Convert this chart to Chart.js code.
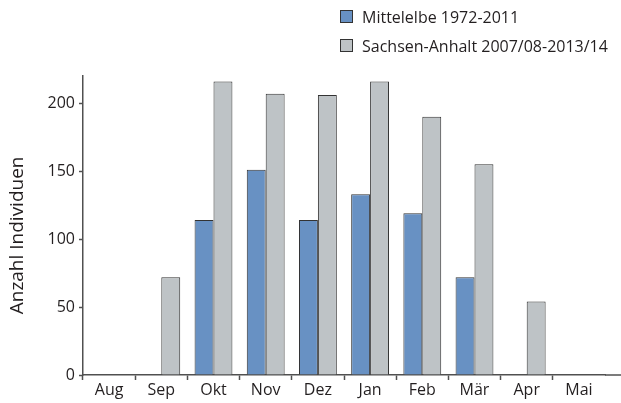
<!DOCTYPE html>
<html>
<head>
<meta charset="utf-8">
<script src="https://cdn.jsdelivr.net/npm/chart.js@4/dist/chart.umd.min.js"></script>
<style>
  html, body { margin: 0; padding: 0; background: #fff; }
  #wrap { position: relative; width: 621px; height: 403px; }
  #legend { position: absolute; left: 340px; top: 2px; font-family: "Open Sans", sans-serif; font-size: 16px; color: #231f20; }
  .item { display: flex; align-items: center; height: 29px; }
  .box { width: 11px; height: 11px; border: 1px solid #333; margin-right: 9px; flex: none; }
</style>
</head>
<body>
<div id="wrap">
  <canvas id="c" width="621" height="403"></canvas>
  <div id="legend"></div>
</div>
<script>
const categories = ["Aug", "Sep", "Okt", "Nov", "Dez", "Jan", "Feb", "Mär", "Apr", "Mai"];
const mittelelbe = [null, null, 114, 151, 114, 133, 119, 72, null, null];
const sachsenAnhalt = [null, 72, 216, 207, 206, 216, 190, 155, 54, null];
const seriesNames = ["Mittelelbe 1972-2011", "Sachsen-Anhalt 2007/08-2013/14"];
const yTicks = [0, 50, 100, 150, 200];
const yMax = 220;
const yTitle = "Anzahl Individuen";

const colors = ["#6891c3", "#bec3c6"];
const textColor = "#231f20";
const axisColor = "#505050";
const font = "'Open Sans', sans-serif";

const legendEl = document.getElementById('legend');
seriesNames.forEach((n, i) => {
  const d = document.createElement('div');
  d.className = 'item';
  const b = document.createElement('span');
  b.className = 'box';
  b.style.background = colors[i];
  const t = document.createElement('span');
  t.textContent = n;
  d.appendChild(b); d.appendChild(t);
  legendEl.appendChild(d);
});

const extendAxis = {
  id: 'extendAxis',
  afterDraw(chart) {
    const {ctx, chartArea} = chart;
    ctx.save();
    ctx.strokeStyle = axisColor;
    ctx.lineWidth = 1.5;
    ctx.beginPath();
    ctx.moveTo(chartArea.right, chartArea.bottom);
    ctx.lineTo(chart.width, chartArea.bottom);
    ctx.stroke();
    ctx.restore();
  }
};

new Chart(document.getElementById('c'), {
  type: 'bar',
  data: {
    labels: categories,
    datasets: [
      { label: seriesNames[0], data: mittelelbe, backgroundColor: colors[0], borderColor: "#333", borderWidth: 1 },
      { label: seriesNames[1], data: sachsenAnhalt, backgroundColor: colors[1], borderColor: "#333", borderWidth: 1 }
    ]
  },
  options: {
    responsive: false,
    devicePixelRatio: 1,
    animation: false,
    layout: { padding: { top: 76, right: 16, bottom: 0, left: 0 } },
    categoryPercentage: 0.725,
    barPercentage: 1,
    plugins: { legend: { display: false }, tooltip: { enabled: false } },
    scales: {
      x: {
        grid: {
          display: true, drawOnChartArea: false, drawTicks: true, tickLength: 5, tickWidth: 1.5,
          tickColor: ctx => (ctx.index === undefined ? 'rgba(0,0,0,0)' : axisColor)
        },
        border: { display: true, color: axisColor, width: 1.5 },
        ticks: { color: textColor, font: { family: font, size: 16 }, padding: 1, maxRotation: 0 },
        afterFit: s => { s.height = 28; }
      },
      y: {
        min: 0, max: yMax,
        afterBuildTicks: s => { s.ticks = yTicks.map(v => ({ value: v })); },
        grid: { display: true, drawOnChartArea: false, drawTicks: true, tickLength: 4, tickWidth: 1.5, tickColor: axisColor },
        border: { display: true, color: axisColor, width: 1.5 },
        ticks: { color: textColor, font: { family: font, size: 16 }, padding: 4 },
        title: { display: true, text: yTitle + "\u00a0\u00a0\u00a0\u00a0", color: textColor, font: { family: font, size: 19 }, padding: { top: 6, bottom: 0 } },
        afterFit: s => { s.width = 83; }
      }
    }
  },
  plugins: [extendAxis]
});
</script>
</body>
</html>
